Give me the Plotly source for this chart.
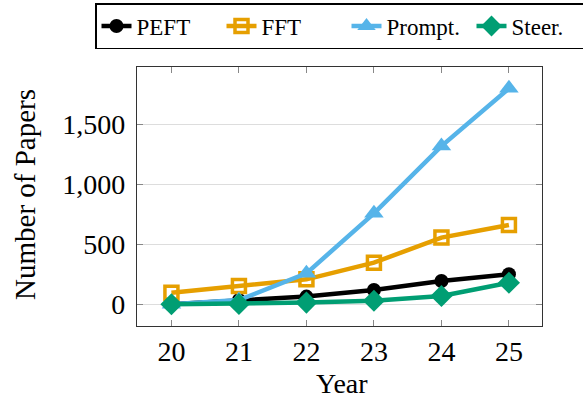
import plotly.graph_objects as go

years = [20, 21, 22, 23, 24, 25]
peft = [0, 36, 64, 119, 194, 250]
fft = [97, 153, 208, 347, 556, 661]
prompt = [0, 35, 258, 758, 1319, 1800]
steer = [0, 3, 14, 30, 69, 180]

series = [
    ("PEFT", peft, "#000000", "circle", 14),
    ("FFT", fft, "#E69F00", "square-open", 13),
    ("Prompt.", prompt, "#56B4E9", "triangle-up", 17),
    ("Steer.", steer, "#009E73", "diamond", 17),
]

fig = go.Figure()
for name, vals, color, sym, size in series:
    fig.add_trace(go.Scatter(
        x=years, y=vals, name=name, mode="lines+markers",
        line=dict(color=color, width=4.5),
        marker=dict(symbol=sym, size=size, color=color,
                    line=dict(color=color, width=3.5 if "open" in sym else 0)),
    ))

font = dict(family="Liberation Serif, Times New Roman, serif", color="black")
fig.update_layout(
    width=583, height=401,
    margin=dict(l=137, r=41, t=67, b=75, autoexpand=False),
    paper_bgcolor="white", plot_bgcolor="white",
    font=dict(**font, size=26),
    showlegend=True,
    legend=dict(orientation="h", x=-0.1037, y=1.247, xanchor="left", yanchor="top",
                bordercolor="black", borderwidth=1.5, font=dict(size=23),
                entrywidth=80, entrywidthmode="pixels", tracegroupgap=0),
    xaxis=dict(
        range=[19.49, 25.49], tickvals=years, ticktext=[str(y) for y in years],
        showline=True, linecolor="#333333", linewidth=1.2, mirror="allticks",
        ticks="inside", ticklen=6, tickcolor="#888888", showgrid=False, zeroline=False,
        tickfont=dict(size=28), automargin=False,
    ),
    yaxis=dict(
        range=[-181, 1978], tickvals=[0, 500, 1000, 1500], tickformat=",",
        showline=True, linecolor="#333333", linewidth=1.2, mirror="allticks",
        ticks="inside", ticklen=6, tickcolor="#888888", ticklabelstandoff=5,
        showgrid=True, gridcolor="#DDDDDD", gridwidth=1, zeroline=False,
        tickfont=dict(size=28), automargin=False,
    ),
    annotations=[
        dict(text="Year", x=0.507, y=-0.222, xref="paper", yref="paper",
             xanchor="center", yanchor="middle", showarrow=False, font=dict(size=28)),
        dict(text="Number of Papers", x=-0.2765, y=0.506, xref="paper", yref="paper",
             xanchor="center", yanchor="middle", showarrow=False, textangle=-90,
             font=dict(size=29)),
    ],
)

fig.write_html("out.html", config={"displayModeBar": False},
               post_script="document.body.style.margin='0';")
